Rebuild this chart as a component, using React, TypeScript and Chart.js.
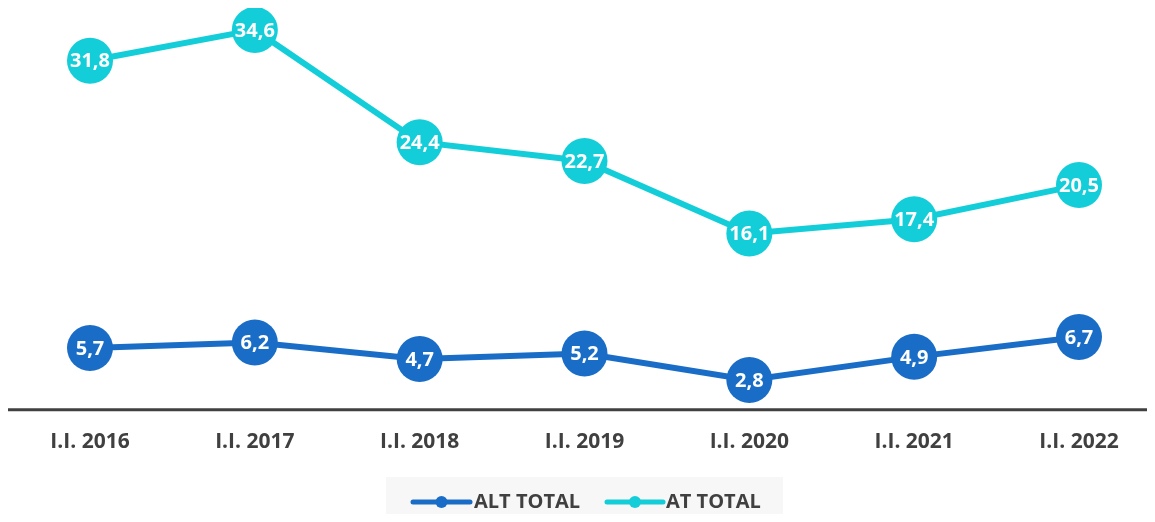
import React, { useEffect, useRef } from "react";
import { Chart, registerables } from "chart.js";

Chart.register(...registerables);

const categories = ["I.I. 2016", "I.I. 2017", "I.I. 2018", "I.I. 2019", "I.I. 2020", "I.I. 2021", "I.I. 2022"];
const altTotal = [5.7, 6.2, 4.7, 5.2, 2.8, 4.9, 6.7];
const atTotal = [31.8, 34.6, 24.4, 22.7, 16.1, 17.4, 20.5];
const seriesNames = ["ALT TOTAL", "AT TOTAL"];
const seriesColors = ["#1A6DC6", "#13CED8"];

const FONT = "'Open Sans', Lato, sans-serif";
const TEXT = "#404040";

const fmt = (v: number) => v.toFixed(1).replace(".", ",");

const labelPlugin = {
  id: "labels",
  afterDatasetsDraw(chart: any) {
    const ctx = chart.ctx;
    ctx.save();
    ctx.fillStyle = "#ffffff";
    ctx.font = `bold 20px ${FONT}`;
    ctx.textAlign = "center";
    ctx.textBaseline = "middle";
    chart.data.datasets.forEach((ds: any, i: number) => {
      const meta = chart.getDatasetMeta(i);
      meta.data.forEach((pt: any, j: number) => {
        ctx.fillText(fmt(ds.data[j]), pt.x, pt.y + 1);
      });
    });
    ctx.restore();
  },
};

const axisPlugin = {
  id: "axisLine",
  beforeDatasetsDraw(chart: any) {
    const ctx = chart.ctx;
    const y = chart.chartArea.bottom - 1;
    ctx.save();
    ctx.strokeStyle = "#404040";
    ctx.lineWidth = 3;
    ctx.beginPath();
    ctx.moveTo(0, y);
    ctx.lineTo(chart.width, y);
    ctx.stroke();
    ctx.restore();
  },
};

const legendPlugin = {
  id: "customLegend",
  afterDraw(chart: any) {
    const ctx = chart.ctx;
    ctx.save();
    ctx.fillStyle = "#F7F7F7";
    ctx.fillRect(378, 469, 397, 40);
    const cy = 494;
    const items = [
      { x0: 405, x1: 462, tx: 466 },
      { x0: 599, x1: 655, tx: 658 },
    ];
    items.forEach((it, i) => {
      ctx.strokeStyle = seriesColors[i];
      ctx.lineWidth = 5;
      ctx.lineCap = "round";
      ctx.beginPath();
      ctx.moveTo(it.x0, cy);
      ctx.lineTo(it.x1, cy);
      ctx.stroke();
      ctx.fillStyle = seriesColors[i];
      ctx.beginPath();
      ctx.arc((it.x0 + it.x1) / 2, cy, 6, 0, Math.PI * 2);
      ctx.fill();
      ctx.fillStyle = TEXT;
      ctx.font = `bold 20px ${FONT}`;
      ctx.textAlign = "left";
      ctx.textBaseline = "middle";
      ctx.fillText(seriesNames[i], it.tx, cy);
    });
    ctx.restore();
  },
};

export default function App() {
  const ref = useRef<HTMLCanvasElement>(null);
  useEffect(() => {
    if (!ref.current) return;
    const chart = new Chart(ref.current, {
      type: "line",
      data: {
        labels: categories,
        datasets: [
          {
            label: seriesNames[0],
            data: altTotal,
            borderColor: seriesColors[0],
            backgroundColor: seriesColors[0],
            borderWidth: 6,
            pointRadius: 23,
            pointHoverRadius: 23,
            pointBorderWidth: 0,
            clip: false,
          },
          {
            label: seriesNames[1],
            data: atTotal,
            borderColor: seriesColors[1],
            backgroundColor: seriesColors[1],
            borderWidth: 6,
            pointRadius: 23,
            pointHoverRadius: 23,
            pointBorderWidth: 0,
            clip: false,
          },
        ],
      },
      options: {
        animation: false,
        responsive: true,
        maintainAspectRatio: false,
        layout: { padding: { top: 6, left: 82, right: 68, bottom: 40 } },
        plugins: { legend: { display: false }, tooltip: { enabled: false } },
        scales: {
          x: {
            offset: false,
            grid: { display: false, drawTicks: false },
            border: { display: false },
            ticks: {
              color: TEXT,
              font: { family: FONT, size: 21, weight: "bold" },
              padding: 19,
              maxRotation: 0,
              autoSkip: false,
            },
          },
          y: {
            display: false,
            min: 0,
            max: 34.5,
          },
        },
      },
      plugins: [axisPlugin, labelPlugin, legendPlugin],
    });
    return () => chart.destroy();
  }, []);
  return (
    <div style={{ position: "relative", width: "1139px", height: "506px" }}>
      <canvas ref={ref} />
    </div>
  );
}
